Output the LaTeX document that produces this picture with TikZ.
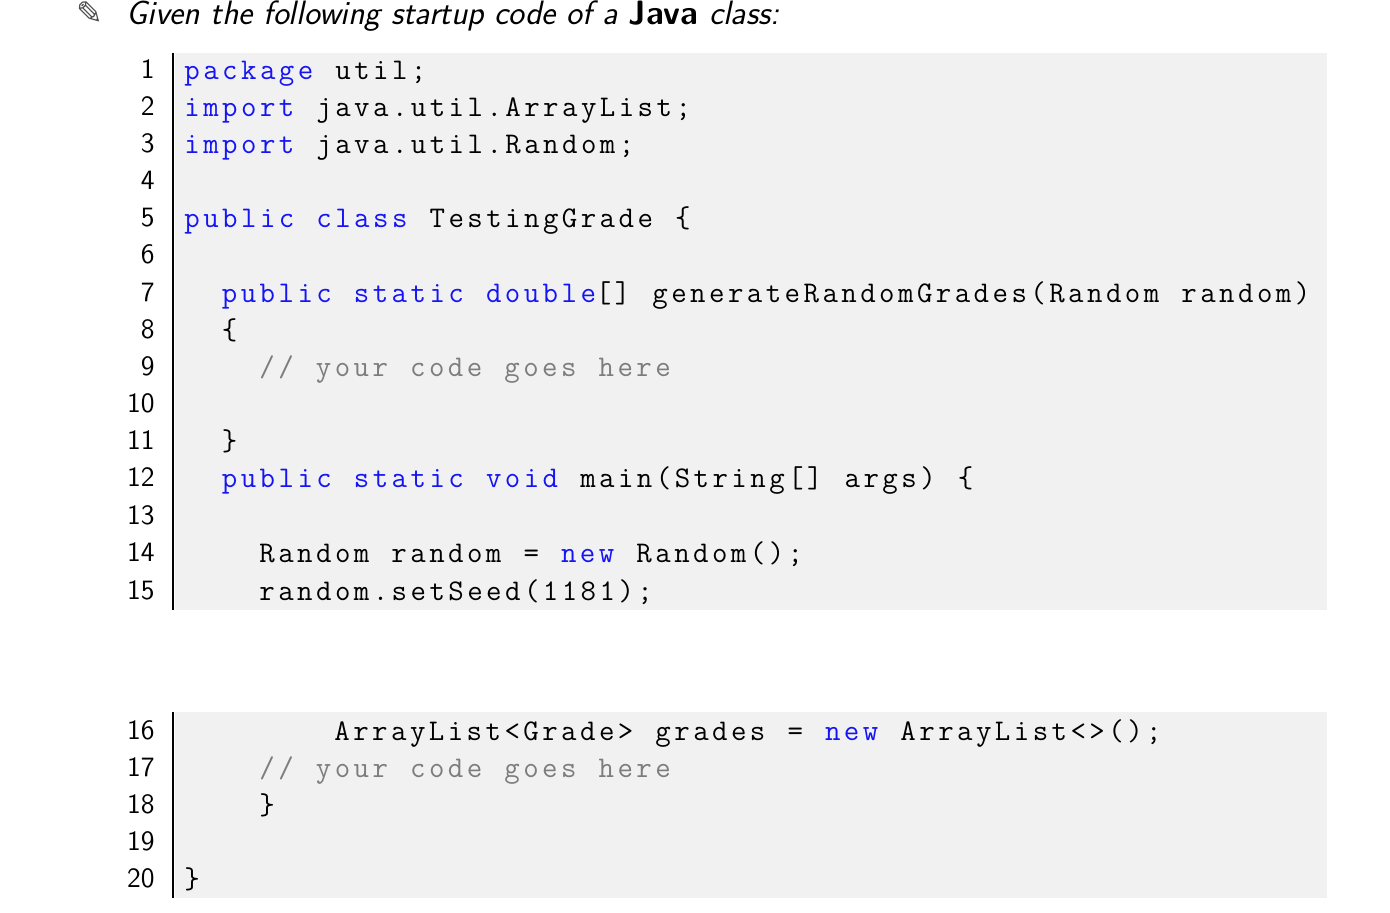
\documentclass[tikz,border=0pt]{standalone}
\usepackage{fontspec}
\setsansfont{Latin Modern Sans}
\newfontfamily\code{Latin Modern Mono}[LetterSpace=11.5,WordSpace=1.17]
\newfontfamily\djfont{DejaVu Sans}
\definecolor{codebg}{RGB}{241,241,241}
\definecolor{kwc}{RGB}{20,20,245}
\definecolor{cmc}{RGB}{125,125,125}
\newcommand{\kw}[1]{\textcolor{kwc}{#1}}
\newcommand{\cm}[1]{\textcolor{cmc}{#1}}
\begin{document}
\begin{tikzpicture}[x=0.5pt,y=-0.5pt,
  codeline/.style={anchor=base west,inner sep=0pt,font=\code\fontsize{15pt}{15pt}\selectfont},
  lnum/.style={anchor=base east,inner sep=0pt,font=\sffamily\fontsize{14pt}{14pt}\selectfont}]
\useasboundingbox (0,0) rectangle (1390,913);
\fill[codebg] (175,53) rectangle (1327,610);
\fill[codebg] (175,712) rectangle (1327,898);
\draw[line width=1.2pt] (173,53) -- (173,610);
\draw[line width=1.2pt] (173,712) -- (173,898);
\node[anchor=base west,inner sep=0pt,font=\djfont\fontsize{16pt}{16pt}\selectfont,text=black!70] (pen) at (76,25) {✎};
\node[anchor=base west,inner sep=0pt,font=\sffamily\itshape\fontsize{16.9pt}{16.9pt}\selectfont] (title) at (126,25) {Given the following startup code of a \textbf{\upshape Java} class:};
\foreach \n/\y in {1/70,2/107,3/144,4/181,5/218,6/255,7/293,8/330,9/367,10/404,11/441,12/478,13/515,14/552,15/590,16/730,17/767,18/804,19/841,20/878}
  \node[lnum] (n\n) at (155,\y+9) {\n};
\newcommand{\cl}[4]{\node[codeline] (#1) at (184+18.75*#2,#3+10) {#4};}
\cl{l1}{0}{70}{\kw{package} util;}
\cl{l2}{0}{107}{\kw{import} java.util.ArrayList;}
\cl{l3}{0}{144}{\kw{import} java.util.Random;}
\cl{l5}{0}{218}{\kw{public} \kw{class} TestingGrade \{}
\cl{l7}{2}{293}{\kw{public} \kw{static} \kw{double}[] generateRandomGrades(Random random)}
\cl{l8}{2}{330}{\{}
\cl{l9}{4}{367}{\cm{// your code goes here}}
\cl{l11}{2}{441}{\}}
\cl{l12}{2}{478}{\kw{public} \kw{static} \kw{void} main(String[] args) \{}
\cl{l14}{4}{552}{Random random = \kw{new} Random();}
\cl{l15}{4}{590}{random.setSeed(1181);}
\cl{l16}{8}{730}{ArrayList<Grade> grades = \kw{new} ArrayList<>();}
\cl{l17}{4}{767}{\cm{// your code goes here}}
\cl{l18}{4}{804}{\}}
\cl{l20}{0}{878}{\}}
\end{tikzpicture}
\end{document}
